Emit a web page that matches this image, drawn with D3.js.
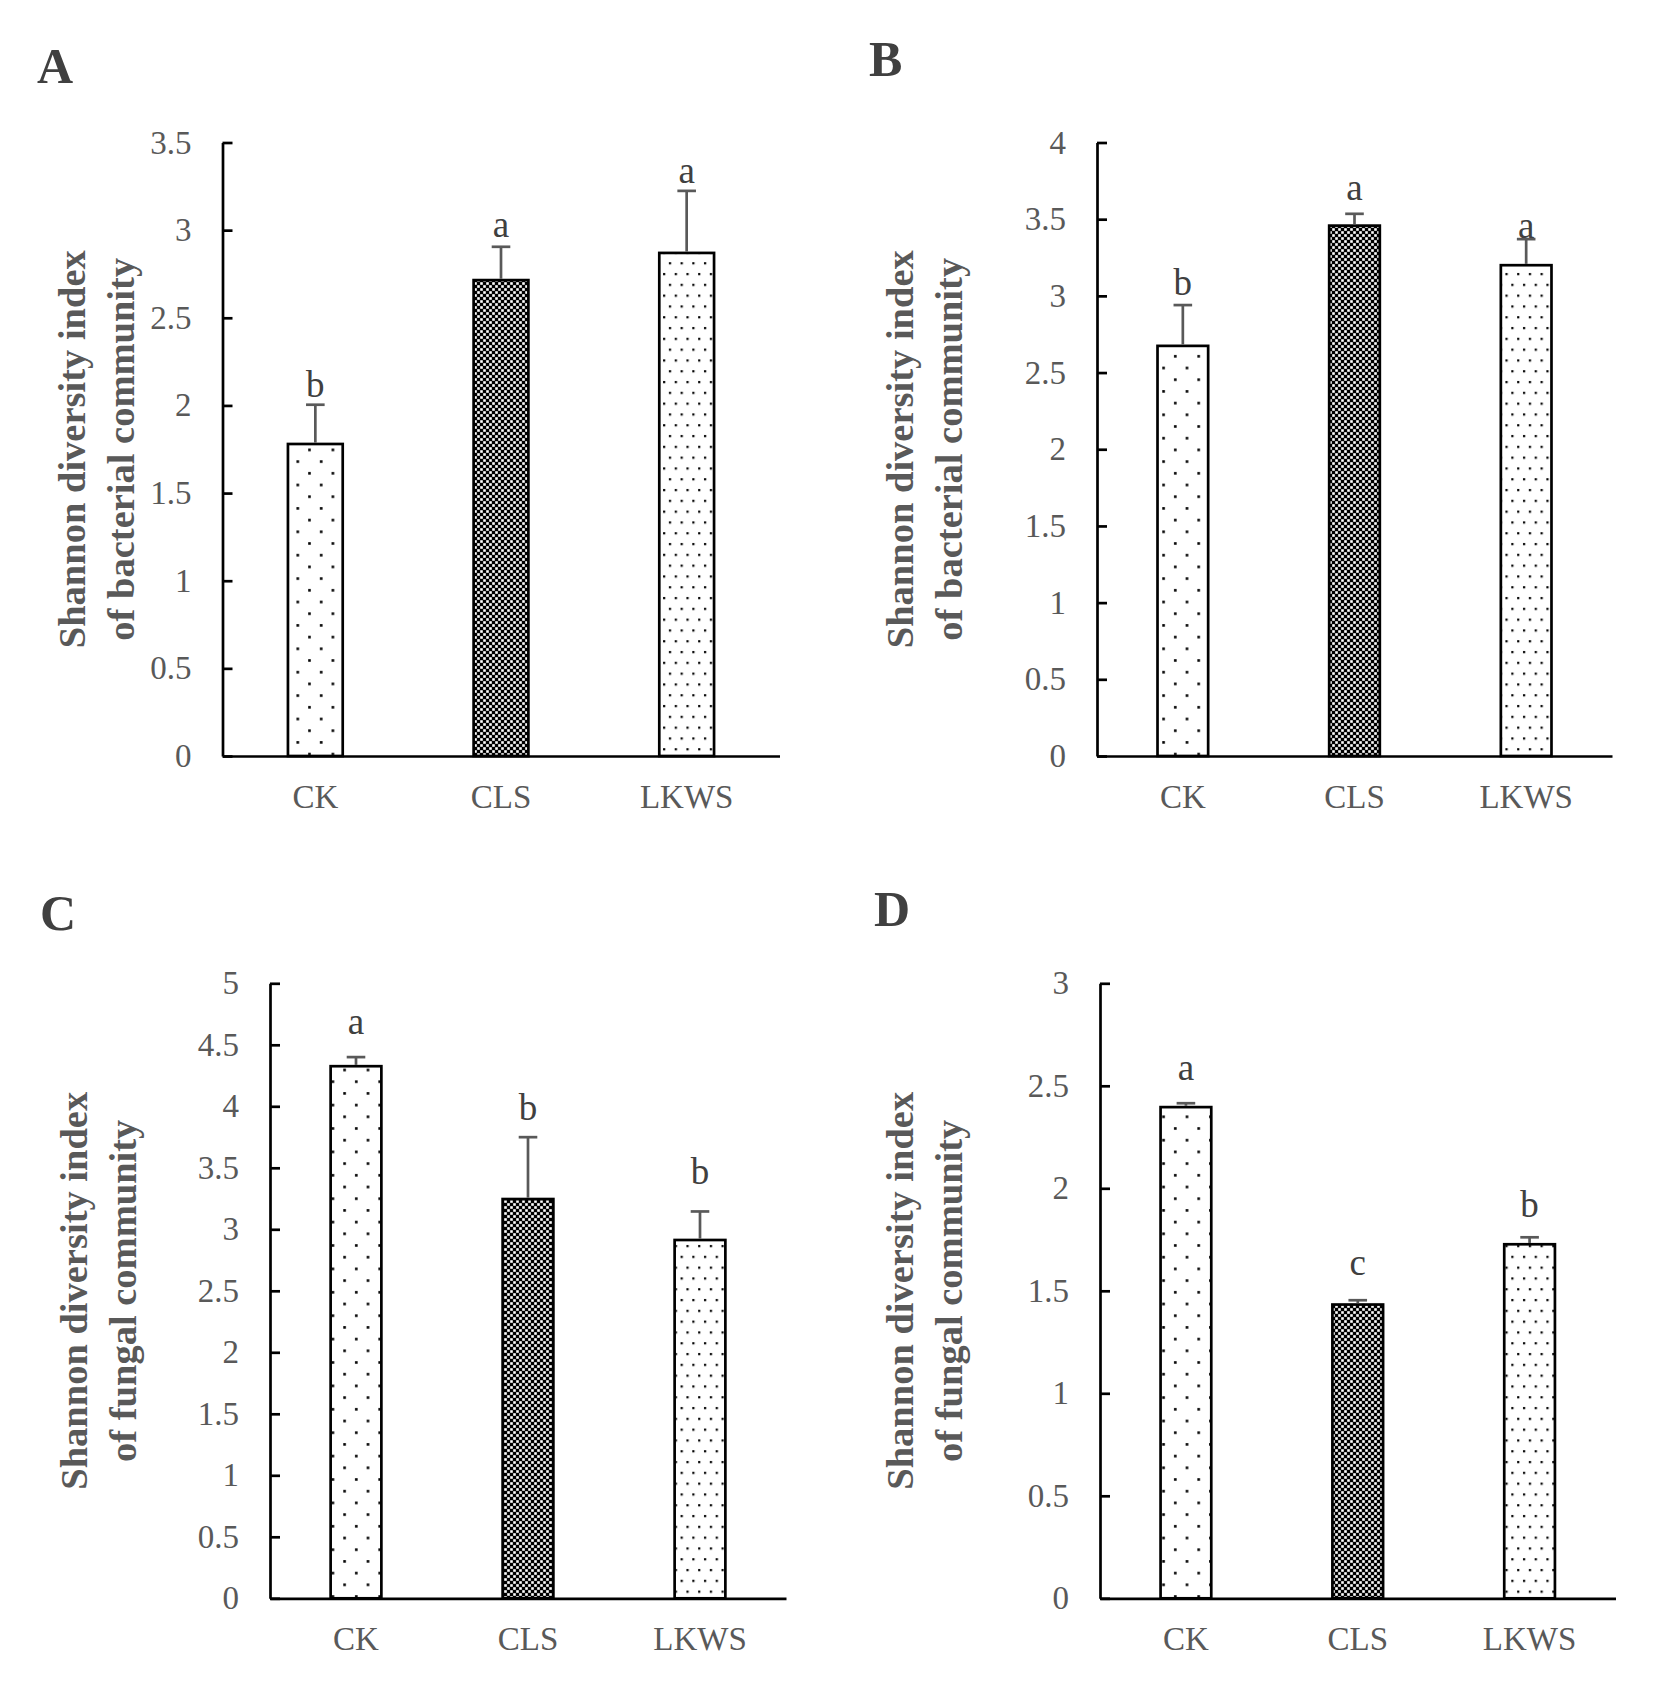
<!DOCTYPE html>
<html>
<head>
<meta charset="utf-8">
<script src="https://cdn.jsdelivr.net/npm/d3@7"></script>
<style>
  body { margin: 0; background: #fff; }
  svg { display: block; font-family: "Liberation Serif", "Times New Roman", serif; }
</style>
</head>
<body>
<div id="viz"></div>
<script>
// treatments, same for every panel
let categories = ["CK", "CLS", "LKWS"];
let panelLetters = ["A", "B", "C", "D"];
let bacterialTitle = ["Shannon diversity index", "of bacterial community"];
let fungalTitle = ["Shannon diversity index", "of fungal community"];

// A - bacterial
let meanA = [1.78, 2.715, 2.87];
let errA = [0.224, 0.19, 0.354];
let sigA = ["b", "a", "a"];
let sigAtA = [2.05, 2.96, 3.27];
let ticksA = [0, 0.5, 1, 1.5, 2, 2.5, 3, 3.5];

// B - bacterial
let meanB = [2.674, 3.458, 3.2];
let errB = [0.266, 0.077, 0.17];
let sigB = ["b", "a", "a"];
let sigAtB = [3.006, 3.626, 3.38];
let ticksB = [0, 0.5, 1, 1.5, 2, 2.5, 3, 3.5, 4];

// C - fungal
let meanC = [4.326, 3.246, 2.913];
let errC = [0.074, 0.503, 0.232];
let sigC = ["a", "b", "b"];
let sigAtC = [4.588, 3.885, 3.365];
let ticksC = [0, 0.5, 1, 1.5, 2, 2.5, 3, 3.5, 4, 4.5, 5];

// D - fungal
let meanD = [2.396, 1.433, 1.727];
let errD = [0.019, 0.021, 0.034];
let sigD = ["a", "c", "b"];
let sigAtD = [2.527, 1.577, 1.862];
let ticksD = [0, 0.5, 1, 1.5, 2, 2.5, 3];

let width = 1654;
let height = 1683;

let svg = d3
  .select("#viz")
  .append("svg")
  .attr("width", width)
  .attr("height", height);

// fill patterns, one per treatment
let defs = svg.append("defs");

let sparse = defs
  .append("pattern")
  .attr("id", "pat0")
  .attr("patternUnits", "userSpaceOnUse")
  .attr("width", 23.4)
  .attr("height", 23.4);
sparse.append("rect").attr("width", 23.4).attr("height", 23.4).attr("fill", "#fff");
sparse.append("rect").attr("x", 4).attr("y", 4).attr("width", 2.6).attr("height", 2.6).attr("fill", "#000");
sparse.append("rect").attr("x", 15.7).attr("y", 15.7).attr("width", 2.6).attr("height", 2.6).attr("fill", "#000");

let dense = defs
  .append("pattern")
  .attr("id", "pat1")
  .attr("patternUnits", "userSpaceOnUse")
  .attr("width", 6)
  .attr("height", 6);
dense.append("rect").attr("width", 6).attr("height", 6).attr("fill", "#000");
dense.append("rect").attr("x", 0.2).attr("y", 0.2).attr("width", 2.6).attr("height", 2.6).attr("fill", "#fff");
dense.append("rect").attr("x", 3.2).attr("y", 3.2).attr("width", 2.6).attr("height", 2.6).attr("fill", "#fff");

let fine = defs
  .append("pattern")
  .attr("id", "pat2")
  .attr("patternUnits", "userSpaceOnUse")
  .attr("width", 11.7)
  .attr("height", 21.6);
fine.append("rect").attr("width", 11.7).attr("height", 21.6).attr("fill", "#fff");
fine.append("rect").attr("x", 2).attr("y", 3).attr("width", 2.2).attr("height", 2.2).attr("fill", "#000");
fine.append("rect").attr("x", 7.85).attr("y", 13.8).attr("width", 2.2).attr("height", 2.2).attr("fill", "#000");

// panel layout
let panels = [
  { letter: panelLetters[0], lx: 37, ly: 83, x0: 222.5, x1: 779.5, top: 142.5, zero: 756, tx: [85, 134],
    title: bacterialTitle, mean: meanA, err: errA, sig: sigA, sigAt: sigAtA, ticks: ticksA },
  { letter: panelLetters[1], lx: 869, ly: 76, x0: 1097, x1: 1612, top: 142.5, zero: 756, tx: [913, 962],
    title: bacterialTitle, mean: meanB, err: errB, sig: sigB, sigAt: sigAtB, ticks: ticksB },
  { letter: panelLetters[2], lx: 40, ly: 930, x0: 270, x1: 786, top: 983.3, zero: 1598.3, tx: [87, 136],
    title: fungalTitle, mean: meanC, err: errC, sig: sigC, sigAt: sigAtC, ticks: ticksC },
  { letter: panelLetters[3], lx: 874, ly: 926, x0: 1100, x1: 1615.5, top: 983.3, zero: 1598.3, tx: [913, 962],
    title: fungalTitle, mean: meanD, err: errD, sig: sigD, sigAt: sigAtD, ticks: ticksD },
];

let drawPanel = function (p) {
  let g = svg.append("g");

  let x = d3
    .scaleBand()
    .domain(categories)
    .range([p.x0, p.x1])
    .paddingInner(0.705)
    .paddingOuter(0.3525);

  let y = d3
    .scaleLinear()
    .domain([0, d3.max(p.ticks)])
    .range([p.zero, p.top]);

  let rows = categories.map((c, i) => ({
    cat: c,
    i: i,
    mean: p.mean[i],
    err: p.err[i],
    sig: p.sig[i],
    sigAt: p.sigAt[i],
  }));

  // panel letter
  g.append("text")
    .attr("x", p.lx)
    .attr("y", p.ly)
    .attr("font-size", 50)
    .attr("font-weight", "bold")
    .attr("fill", "#404040")
    .text(p.letter);

  // y title, two lines
  g.selectAll(".ytitle")
    .data(p.title)
    .join("text")
    .attr("class", "ytitle")
    .attr("transform", (d, i) => `translate(${p.tx[i]},${(p.top + p.zero) / 2}) rotate(-90)`)
    .attr("text-anchor", "middle")
    .attr("font-size", 38.5)
    .attr("font-weight", "bold")
    .attr("fill", "#595959")
    .text((d) => d);

  // bars
  g.selectAll(".bar")
    .data(rows)
    .join("rect")
    .attr("class", "bar")
    .attr("x", (d) => x(d.cat))
    .attr("y", (d) => y(d.mean))
    .attr("width", x.bandwidth())
    .attr("height", (d) => y(0) - y(d.mean))
    .attr("fill", (d) => `url(#pat${d.i})`)
    .attr("stroke", "#000")
    .attr("stroke-width", 2.7);

  // upper error bars
  let cx = (d) => x(d.cat) + x.bandwidth() / 2;
  g.selectAll(".errline")
    .data(rows)
    .join("line")
    .attr("class", "errline")
    .attr("x1", cx)
    .attr("x2", cx)
    .attr("y1", (d) => y(d.mean) - 1.3)
    .attr("y2", (d) => y(d.mean + d.err))
    .attr("stroke", "#595959")
    .attr("stroke-width", 2.7);

  g.selectAll(".errcap")
    .data(rows)
    .join("line")
    .attr("class", "errcap")
    .attr("x1", (d) => cx(d) - 9.3)
    .attr("x2", (d) => cx(d) + 9.3)
    .attr("y1", (d) => y(d.mean + d.err))
    .attr("y2", (d) => y(d.mean + d.err))
    .attr("stroke", "#595959")
    .attr("stroke-width", 2.7);

  // significance letters
  g.selectAll(".sig")
    .data(rows)
    .join("text")
    .attr("class", "sig")
    .attr("x", cx)
    .attr("y", (d) => y(d.sigAt))
    .attr("text-anchor", "middle")
    .attr("font-size", 37)
    .attr("fill", "#404040")
    .text((d) => d.sig);

  // y axis, ticks inside
  let yAxis = d3
    .axisLeft(y)
    .tickValues(p.ticks)
    .tickFormat((d) => String(d))
    .tickSizeInner(-10)
    .tickSizeOuter(0)
    .tickPadding(31);

  let ya = g
    .append("g")
    .attr("transform", `translate(${p.x0},0)`)
    .call(yAxis);
  ya.select(".domain").attr("stroke", "#000").attr("stroke-width", 2.7);
  ya.selectAll(".tick line").attr("stroke", "#000").attr("stroke-width", 2.7);
  ya.selectAll(".tick text")
    .attr("font-size", 33)
    .attr("font-family", "Liberation Serif, serif")
    .attr("fill", "#595959");

  // x axis
  let xAxis = d3.axisBottom(x).tickSize(0).tickPadding(28.6);
  let xa = g
    .append("g")
    .attr("transform", `translate(0,${p.zero})`)
    .call(xAxis);
  xa.select(".domain").attr("stroke", "#000").attr("stroke-width", 2.7);
  xa.selectAll(".tick text")
    .attr("font-size", 33)
    .attr("font-family", "Liberation Serif, serif")
    .attr("fill", "#595959");
};

panels.forEach(drawPanel);
</script>
</body>
</html>
